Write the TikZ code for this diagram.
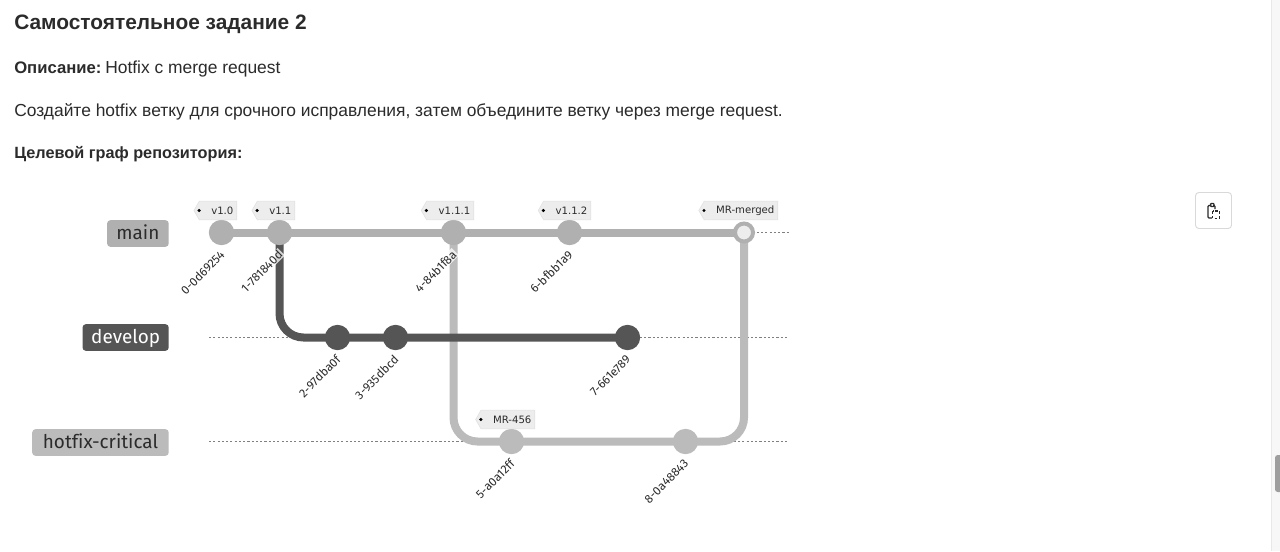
\documentclass[tikz,border=0pt]{standalone}
\usepackage{fontspec}
\setmainfont{Liberation Sans}
\newfontfamily\graphfont[Ligatures=NoCommon]{Fira Sans}
\newfontfamily\tagfont{DejaVu Sans}
\usetikzlibrary{shapes,positioning,calc}
\definecolor{mainc}{HTML}{B0B0B0}
\definecolor{devc}{HTML}{555555}
\definecolor{hotc}{HTML}{BBBBBB}
\definecolor{inkc}{HTML}{2B2B2B}
\tikzset{
    headtext/.style={anchor=base west,inner sep=0pt,text=inkc,font=\fontsize{15.65}{20}\selectfont\bfseries},
    boldtext/.style={anchor=base west,inner sep=0pt,text=inkc,font=\fontsize{12.2}{16}\selectfont\bfseries},
    bodytext/.style={anchor=base west,inner sep=0pt,text=inkc,font=\fontsize{13.06}{16}\selectfont},
    branchbox/.style={anchor=east,rounded corners=2.5pt,minimum height=20pt,text height=11.5pt,text depth=3pt,inner xsep=7pt,inner ysep=0pt,font=\graphfont\fontsize{14.2}{16}\selectfont},
    commit/.style={circle,minimum size=19pt,inner sep=0pt},
    mergecommit/.style={circle,minimum size=13.5pt,inner sep=0pt,fill=black!7,draw=mainc,line width=3pt},
    branchline/.style={line width=6pt,rounded corners=18pt},
    lifeline/.style={draw=black!50,line width=0.55pt,dash pattern=on 1.6pt off 1.6pt},
    commitlabel/.style={anchor=east,rotate=45,inner xsep=1pt,inner ysep=0.5pt,text=inkc,fill=white,fill opacity=0.75,text opacity=1,font=\graphfont\fontsize{9}{10}\selectfont},
    tagbox/.style={signal,signal to=west,signal pointer angle=120,anchor=east,fill=black!7,draw=black!12,line width=0.4pt,minimum height=14pt,inner ysep=0pt,inner xsep=2.5pt,text=inkc,font=\tagfont\fontsize{7.6}{10}\selectfont},
}
\begin{document}
\begin{tikzpicture}[x=0.75pt,y=-0.75pt]
    \useasboundingbox (0,0) rectangle (1280,551);
    \fill[white] (0,0) rectangle (1280,551);

    % Page text
    \node[headtext] (title) at (14,29.5) {Самостоятельное задание 2};
    \node[boldtext,font=\fontsize{12.5}{16}\selectfont\bfseries] (desc) at (14,73) {Описание:};
    \node[bodytext] (desctext) at (105,73) {Hotfix с merge request};
    \node[bodytext] (task) at (14,116) {Создайте hotfix ветку для срочного исправления, затем объедините ветку через merge request.};
    \node[boldtext] (goal) at (14,158.5) {Целевой граф репозитория:};

    % Branch labels
    \node[branchbox,fill=mainc,text=inkc] (bmain) at (169,233.5) {main};
    \node[branchbox,fill=devc,text=white,inner xsep=6.5pt] (bdev) at (169,337.5) {develop};
    \node[branchbox,fill=hotc,text=inkc,inner xsep=8pt] (bhot) at (169,442.5) {hotfix-critical};

    % Commits
    \foreach \id/\x/\y in {c0/221.5/232.5, c1/279.5/232.5, c2/337.5/337.5, c3/395.5/337.5,
        c4/453.5/232.5, c5/511.5/441.5, c6/569.5/232.5, c7/627.5/337.5, c8/685.5/441.5}
        \coordinate (\id) at (\x,\y);
    \coordinate (cm) at (744,232.5);

    % Lifelines
    \coordinate (mainend) at (789,232.5);
    \coordinate (devstart) at (209,337.5);
    \coordinate (devend) at (789,337.5);
    \coordinate (hotstart) at (209,441.5);
    \coordinate (hotend) at (789,441.5);
    \draw[lifeline] (cm) -- (mainend);
    \draw[lifeline] (devstart) -- (devend);
    \draw[lifeline] (hotstart) -- (hotend);

    % Branch lines
    \draw[branchline,draw=hotc] (c4) |- (c5) -- (c8) -| (cm);
    \draw[branchline,draw=devc] (c1) |- (c2) -- (c7);
    \draw[branchline,draw=mainc] (c0) -- (cm);

    % Commit dots
    \foreach \id/\col in {c0/mainc, c1/mainc, c2/devc, c3/devc, c4/mainc, c5/hotc, c6/mainc, c7/devc, c8/hotc}
        \node[commit,fill=\col] (n\id) at (\id) {};
    \node[mergecommit] (ncm) at (cm) {};

    % Commit labels
    \foreach \id/\txt in {c0/0-0d69254, c1/1-781840d, c2/2-97dba0f, c3/3-935dbcd, c4/4-84b1f8a,
        c5/5-a0a12ff, c6/6-bfbb1a9, c7/7-661e789, c8/8-0a48843}
        \node[commitlabel] (l\id) at ($(\id)+(2,19)$) {\txt};

    % Tags
    \foreach \id/\x/\y/\txt in {t0/237/210.5/v1.0, t1/295/210.5/v1.1, t2/474/210.5/v1.1.1, t3/591/210.5/v1.1.2,
        t4/778/210.5/MR-merged, t5/535/419.5/MR-456} {
        \node[tagbox] (\id) at (\x,\y) {\hspace{6.5pt}\txt};
        \fill[black] ($(\id.west)+(5.5,0)$) circle (1.3pt);
    }

    % Copy button
    \node[draw=black!15,fill=white,rounded corners=2.5pt,minimum size=27pt,line width=0.7pt] (copybtn) at (1213.5,210.5) {};
    \draw[inkc,line width=0.9pt,rounded corners=0.8pt] (1211,205.5) -- (1208,205.5) -- (1208,218) -- (1212,218);
    \draw[inkc,line width=0.9pt,rounded corners=0.8pt] (1215,209) -- (1215,205.5) -- (1213,205.5);
    \draw[inkc,line width=1pt,rounded corners=0.6pt] (1210.5,206.5) -- (1210.5,203.5) -- (1214,203.5) -- (1214,206.5) -- cycle;
    \draw[inkc,line width=0.9pt,dash pattern=on 2pt off 1.6pt] (1212.5,211) rectangle (1219.5,218.5);

    % Scrollbar
    \fill[black!3] (1271,0) rectangle (1280,551);
    \draw[black!9,line width=0.5pt] (1271,0) -- (1271,551);
    \fill[black!38,rounded corners=2pt] (1275,455) rectangle (1283,492);
\end{tikzpicture}
\end{document}
